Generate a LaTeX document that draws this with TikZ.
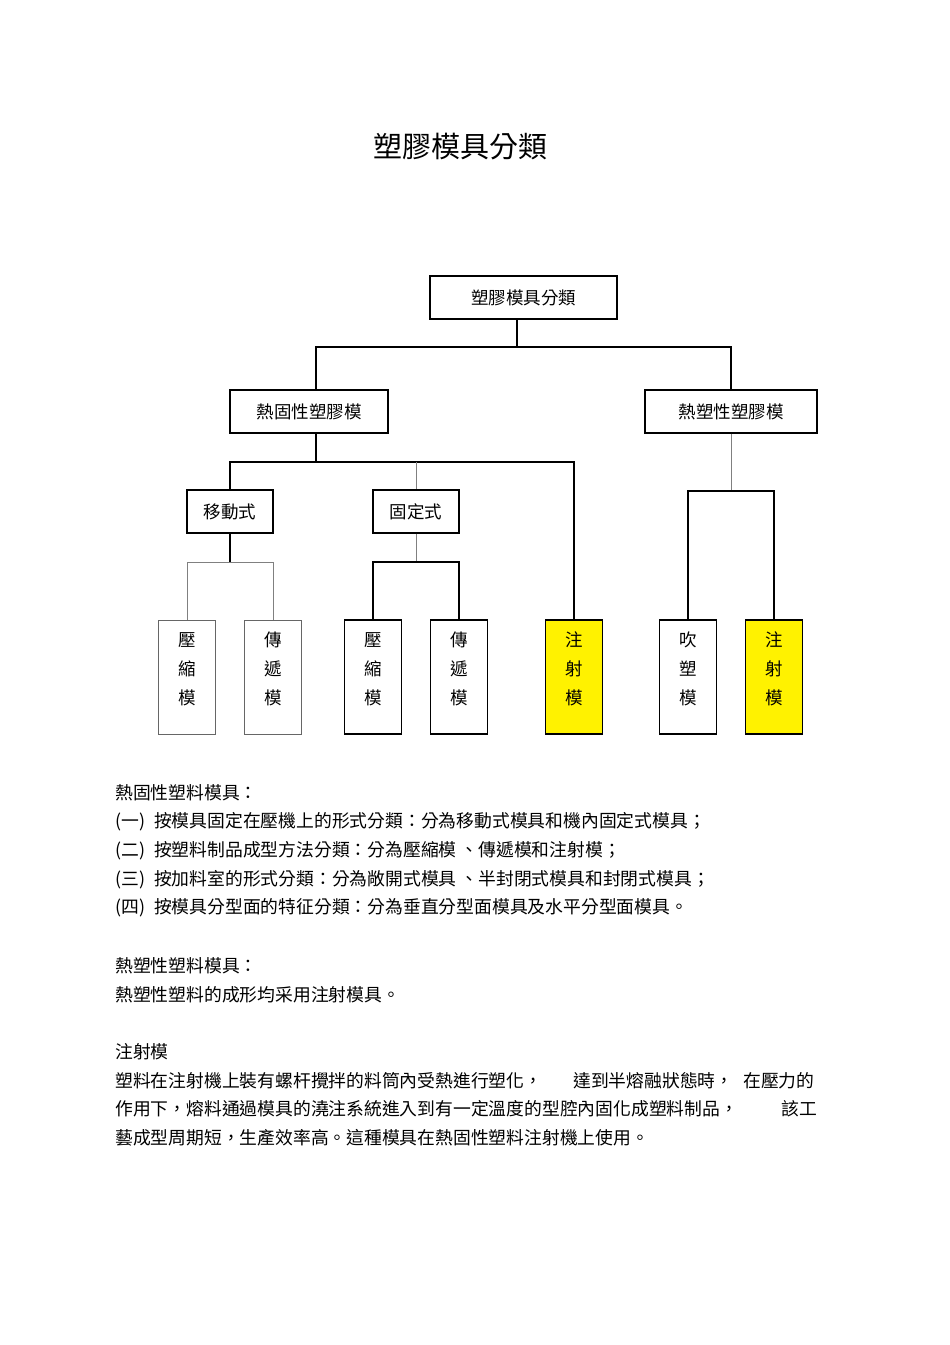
\documentclass[tikz,border=0pt]{standalone}
\usepackage{fontspec}
\setmainfont{Noto Sans CJK TC}
\usetikzlibrary{calc}
\tikzset
{
    % Style for the boxes of the tree
    box/.style=
    {
        draw,
        line width=1.2pt,
        minimum height=43pt,
        inner sep=0pt,
        font=\fontsize{17.5}{20}\selectfont
    },
    % Style for the upright boxes at the bottom
    column box/.style=
    {
        box,
        minimum width=57pt,
        minimum height=114pt
    },
    % Lighter version of it
    pale column box/.style=
    {
        column box,
        draw=gray!80!black,
        line width=0.9pt
    },
    % Style for the injection moulds
    marked box/.style=
    {
        column box,
        fill=yellow
    },
    % Style for the text standing upright in a column box
    column text/.style=
    {
        align=center,
        yshift=8pt,
        font=\fontsize{17.5}{29}\selectfont
    },
    % Style for the connectors
    link/.style=
    {
        line width=1.6pt
    },
    % Thin grey connectors
    thin link/.style=
    {
        line width=0.8pt,
        gray
    },
    % Style for the lines of text below the tree
    body/.style=
    {
        anchor=west,
        inner sep=0pt,
        font=\fontsize{17.8}{20}\selectfont
    }
}

\begin{document}
\begin{tikzpicture}[x=1pt,y=-1pt]
    % Page size
    \path [use as bounding box] (0,0) rectangle (950,1345);

    % Title
    \node (title) at (460,147) [font=\fontsize{29}{34}\selectfont] {塑膠模具分類};

    % Tree
    %% Root and the two kinds
    \node (root) at (523.5,297.5) [box,minimum width=187pt] {塑膠模具分類};
    \node (tset) at (309,411.5) [box,minimum width=158pt] {熱固性塑膠模};
    \node (tplas) at (731,411.5) [box,minimum width=172pt] {熱塑性塑膠模};
    %% Second level
    \node (move) at (230,511.5) [box,minimum width=86pt] {移動式};
    \node (fixed) at (416,511.5) [box,minimum width=86pt] {固定式};
    %% Moulds
    \node (comp1) at (187,677) [pale column box,label={[column text]center:壓\\縮\\模}] {};
    \node (trans1) at (273,677) [pale column box,label={[column text]center:傳\\遞\\模}] {};
    \node (comp2) at (373,677) [column box,label={[column text]center:壓\\縮\\模}] {};
    \node (trans2) at (459,677) [column box,label={[column text]center:傳\\遞\\模}] {};
    \node (inj1) at (574,677) [marked box,label={[column text]center:注\\射\\模}] {};
    \node (blow) at (688,677) [column box,label={[column text]center:吹\\塑\\模}] {};
    \node (inj2) at (774,677) [marked box,label={[column text]center:注\\射\\模}] {};

    % Junctions
    \coordinate (j0) at (517,347);
    \coordinate (j1) at (316,462);
    \coordinate (j2) at (230,562);
    \coordinate (j3) at (416,562);
    \coordinate (j4) at (731,491);

    % Connectors
    \draw[link] (root.south -| j0) -- (j0);
    \draw[link] (tset.north -| j1) |- (j0) -| (tplas.north);
    \draw[link] (tset.south -| j1) -- (j1);
    \draw[link] (move.north) |- (j1) -| (inj1.north);
    \draw[thin link] (j1 -| fixed.north) -- (fixed.north);
    \draw[link] (move.south) -- (j2);
    \draw[thin link] (comp1.north) |- (j2) -| (trans1.north);
    \draw[thin link] (fixed.south) -- (j3);
    \draw[link] (comp2.north) |- (j3) -| (trans2.north);
    \draw[thin link] (tplas.south) -- (j4);
    \draw[link] (blow.north) |- (j4) -| (inj2.north);

    % Text below the tree
    %% Thermosets
    \node (a0) at (115,793) [body] {熱固性塑料模具：};
    \node (a1) at (115,822) [body] {(一)\hspace{9pt}按模具固定在壓機上的形式分類：分為移動式模具和機內固定式模具；};
    \node (a2) at (115,851) [body] {(二)\hspace{9pt}按塑料制品成型方法分類：分為壓縮模 、傳遞模和注射模；};
    \node (a3) at (115,880) [body] {(三)\hspace{9pt}按加料室的形式分類：分為敞開式模具 、半封閉式模具和封閉式模具；};
    \node (a4) at (115,908) [body] {(四)\hspace{9pt}按模具分型面的特征分類：分為垂直分型面模具及水平分型面模具。};
    %% Thermoplastics
    \node (b0) at (115,966) [body] {熱塑性塑料模具：};
    \node (b1) at (115,995) [body] {熱塑性塑料的成形均采用注射模具。};
    %% Injection moulds
    \node (c0) at (115,1052) [body] {注射模};
    \node (c1) at (115,1081) [body] {塑料在注射機上裝有螺杆攪拌的料筒內受熱進行塑化，};
    \node (c1b) at (573,1081) [body] {達到半熔融狀態時，};
    \node (c1c) at (743,1081) [body] {在壓力的};
    \node (c2) at (115,1109) [body] {作用下，熔料通過模具的澆注系統進入到有一定溫度的型腔內固化成塑料制品，};
    \node (c2b) at (781,1109) [body] {該工};
    \node (c3) at (115,1138) [body] {藝成型周期短，生產效率高。這種模具在熱固性塑料注射機上使用。};
\end{tikzpicture}
\end{document}
